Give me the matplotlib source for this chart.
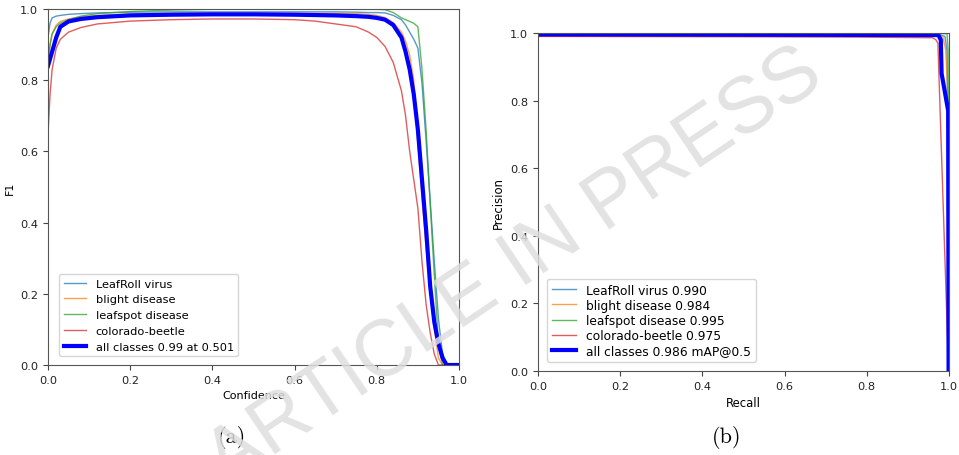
import matplotlib
matplotlib.use('Agg')
import matplotlib.pyplot as plt

# ---------------- data ----------------
class_names = ['LeafRoll virus', 'blight disease', 'leafspot disease', 'colorado-beetle']
class_ap = [0.990, 0.984, 0.995, 0.975]
map50 = 0.986
best_f1 = 0.99
best_conf = 0.501

# F1 - confidence curves
conf = [0.0, 0.005, 0.01, 0.02, 0.03, 0.05, 0.08, 0.12, 0.2, 0.3, 0.4, 0.5, 0.6, 0.65,
        0.7, 0.75, 0.78, 0.8, 0.82, 0.84, 0.86, 0.87, 0.88, 0.89, 0.9, 0.91, 0.92,
        0.93, 0.94, 0.95, 0.96, 0.97, 0.98, 1.0]
f1_leafroll = [0.92, 0.96, 0.975, 0.98, 0.982, 0.985, 0.987, 0.989, 0.991, 0.992, 0.992,
               0.992, 0.992, 0.992, 0.992, 0.991, 0.99, 0.99, 0.989, 0.982, 0.97, 0.955,
               0.935, 0.915, 0.89, 0.79, 0.63, 0.46, 0.29, 0.13, 0.03, 0.0, 0.0, 0.0]
f1_blight = [0.86, 0.9, 0.93, 0.955, 0.965, 0.972, 0.978, 0.982, 0.986, 0.988, 0.988,
             0.988, 0.988, 0.988, 0.988, 0.987, 0.985, 0.982, 0.976, 0.962, 0.935, 0.91,
             0.87, 0.8, 0.62, 0.47, 0.33, 0.2, 0.1, 0.02, 0.0, 0.0, 0.0, 0.0]
f1_leafspot = [0.85, 0.9, 0.93, 0.95, 0.96, 0.97, 0.98, 0.987, 0.993, 0.997, 0.999,
               0.999, 0.999, 0.999, 0.999, 0.999, 0.999, 0.999, 0.998, 0.99, 0.975, 0.97,
               0.965, 0.96, 0.95, 0.83, 0.66, 0.45, 0.25, 0.06, 0.0, 0.0, 0.0, 0.0]
f1_colorado = [0.65, 0.76, 0.83, 0.89, 0.915, 0.935, 0.948, 0.958, 0.966, 0.97, 0.972,
               0.972, 0.97, 0.966, 0.958, 0.95, 0.935, 0.92, 0.895, 0.85, 0.77, 0.7,
               0.6, 0.52, 0.44, 0.29, 0.17, 0.09, 0.03, 0.0, 0.0, 0.0, 0.0, 0.0]
f1_all = [0.84, 0.86, 0.88, 0.92, 0.95, 0.965, 0.972, 0.977, 0.982, 0.984, 0.985,
          0.985, 0.984, 0.983, 0.982, 0.98, 0.978, 0.975, 0.97, 0.955, 0.92, 0.88,
          0.83, 0.76, 0.66, 0.52, 0.38, 0.22, 0.12, 0.06, 0.02, 0.0, 0.0, 0.0]

# precision - recall curves
rec_leafroll = [0.0, 0.5, 0.97, 0.99, 0.995, 0.998, 1.0]
prec_leafroll = [0.998, 0.997, 0.997, 0.99, 0.95, 0.6, 0.0]
rec_blight = [0.0, 0.5, 0.98, 0.985, 0.992, 0.996, 0.999]
prec_blight = [0.99, 0.99, 0.99, 0.988, 0.95, 0.85, 0.0]
rec_leafspot = [0.0, 0.5, 0.995, 0.998, 0.999, 1.0]
prec_leafspot = [0.999, 0.999, 0.998, 0.95, 0.5, 0.0]
rec_colorado = [0.0, 0.5, 0.77, 0.96, 0.968, 0.973, 0.999]
prec_colorado = [0.99, 0.989, 0.988, 0.986, 0.98, 0.97, 0.0]
rec_all = [0.0, 0.5, 0.974, 0.98, 0.982, 0.998, 0.999]
prec_all = [0.996, 0.995, 0.994, 0.98, 0.88, 0.77, 0.0]

colors = ['#1f77b4', '#ff7f0e', '#2ca02c', '#d62728']

plt.rcParams['font.size'] = 8
fig = plt.figure(figsize=(9.59, 4.56), dpi=100)

ax1 = fig.add_axes([48 / 959, 90 / 456, 411 / 959, 356 / 456])
ax2 = fig.add_axes([538 / 959, 84 / 456, 411 / 959, 338 / 456])

f1_curves = [f1_leafroll, f1_blight, f1_leafspot, f1_colorado]
for name, ys, c in zip(class_names, f1_curves, colors):
    ax1.plot(conf, ys, color=c, linewidth=1, alpha=0.75, label=name)
ax1.plot(conf, f1_all, color='blue', linewidth=3,
         label=f'all classes {best_f1:.2f} at {best_conf:.3f}')
ax1.set_xlabel('Confidence')
ax1.set_ylabel('F1')

pr_curves = [(rec_leafroll, prec_leafroll), (rec_blight, prec_blight),
             (rec_leafspot, prec_leafspot), (rec_colorado, prec_colorado)]
for name, ap, (rx, py), c in zip(class_names, class_ap, pr_curves, colors):
    ax2.plot(rx, py, color=c, linewidth=1, alpha=0.75, label=f'{name} {ap:.3f}')
ax2.plot(rec_all, prec_all, color='blue', linewidth=3,
         label=f'all classes {map50:.3f} mAP@0.5')
ax2.set_xlabel('Recall', fontsize=8.4)
ax2.set_ylabel('Precision', fontsize=8.4)

for ax in (ax1, ax2):
    ax.set_xlim(0, 1)
    ax.set_ylim(0, 1)
    for s in ax.spines.values():
        s.set_color('#555555')
    ax.tick_params(colors='#444444', labelsize=8.2)
    for t in ax.get_xticklabels() + ax.get_yticklabels():
        t.set_color('#222222')

ax1.legend(loc='lower left', bbox_to_anchor=(0.027, 0.025), borderaxespad=0,
           fontsize=8.2)
ax2.legend(loc='lower left', bbox_to_anchor=(0.022, 0.027), borderaxespad=0,
           fontsize=8.8, labelspacing=0.17)

fig.text(232 / 959, 1 - 438 / 456, '(a)', family='cmr10', fontsize=16,
         ha='center', va='center')
fig.text(727 / 959, 1 - 438 / 456, '(b)', family='cmr10', fontsize=16,
         ha='center', va='center')

# watermark
fig.text(526 / 959, 1 - 285 / 456, 'ARTICLE IN PRESS', family='Liberation Sans',
         fontsize=57, color='#dedede', alpha=0.85, rotation=34,
         rotation_mode='anchor', ha='center', va='baseline', zorder=10)

fig.savefig('out.png', dpi=100)
